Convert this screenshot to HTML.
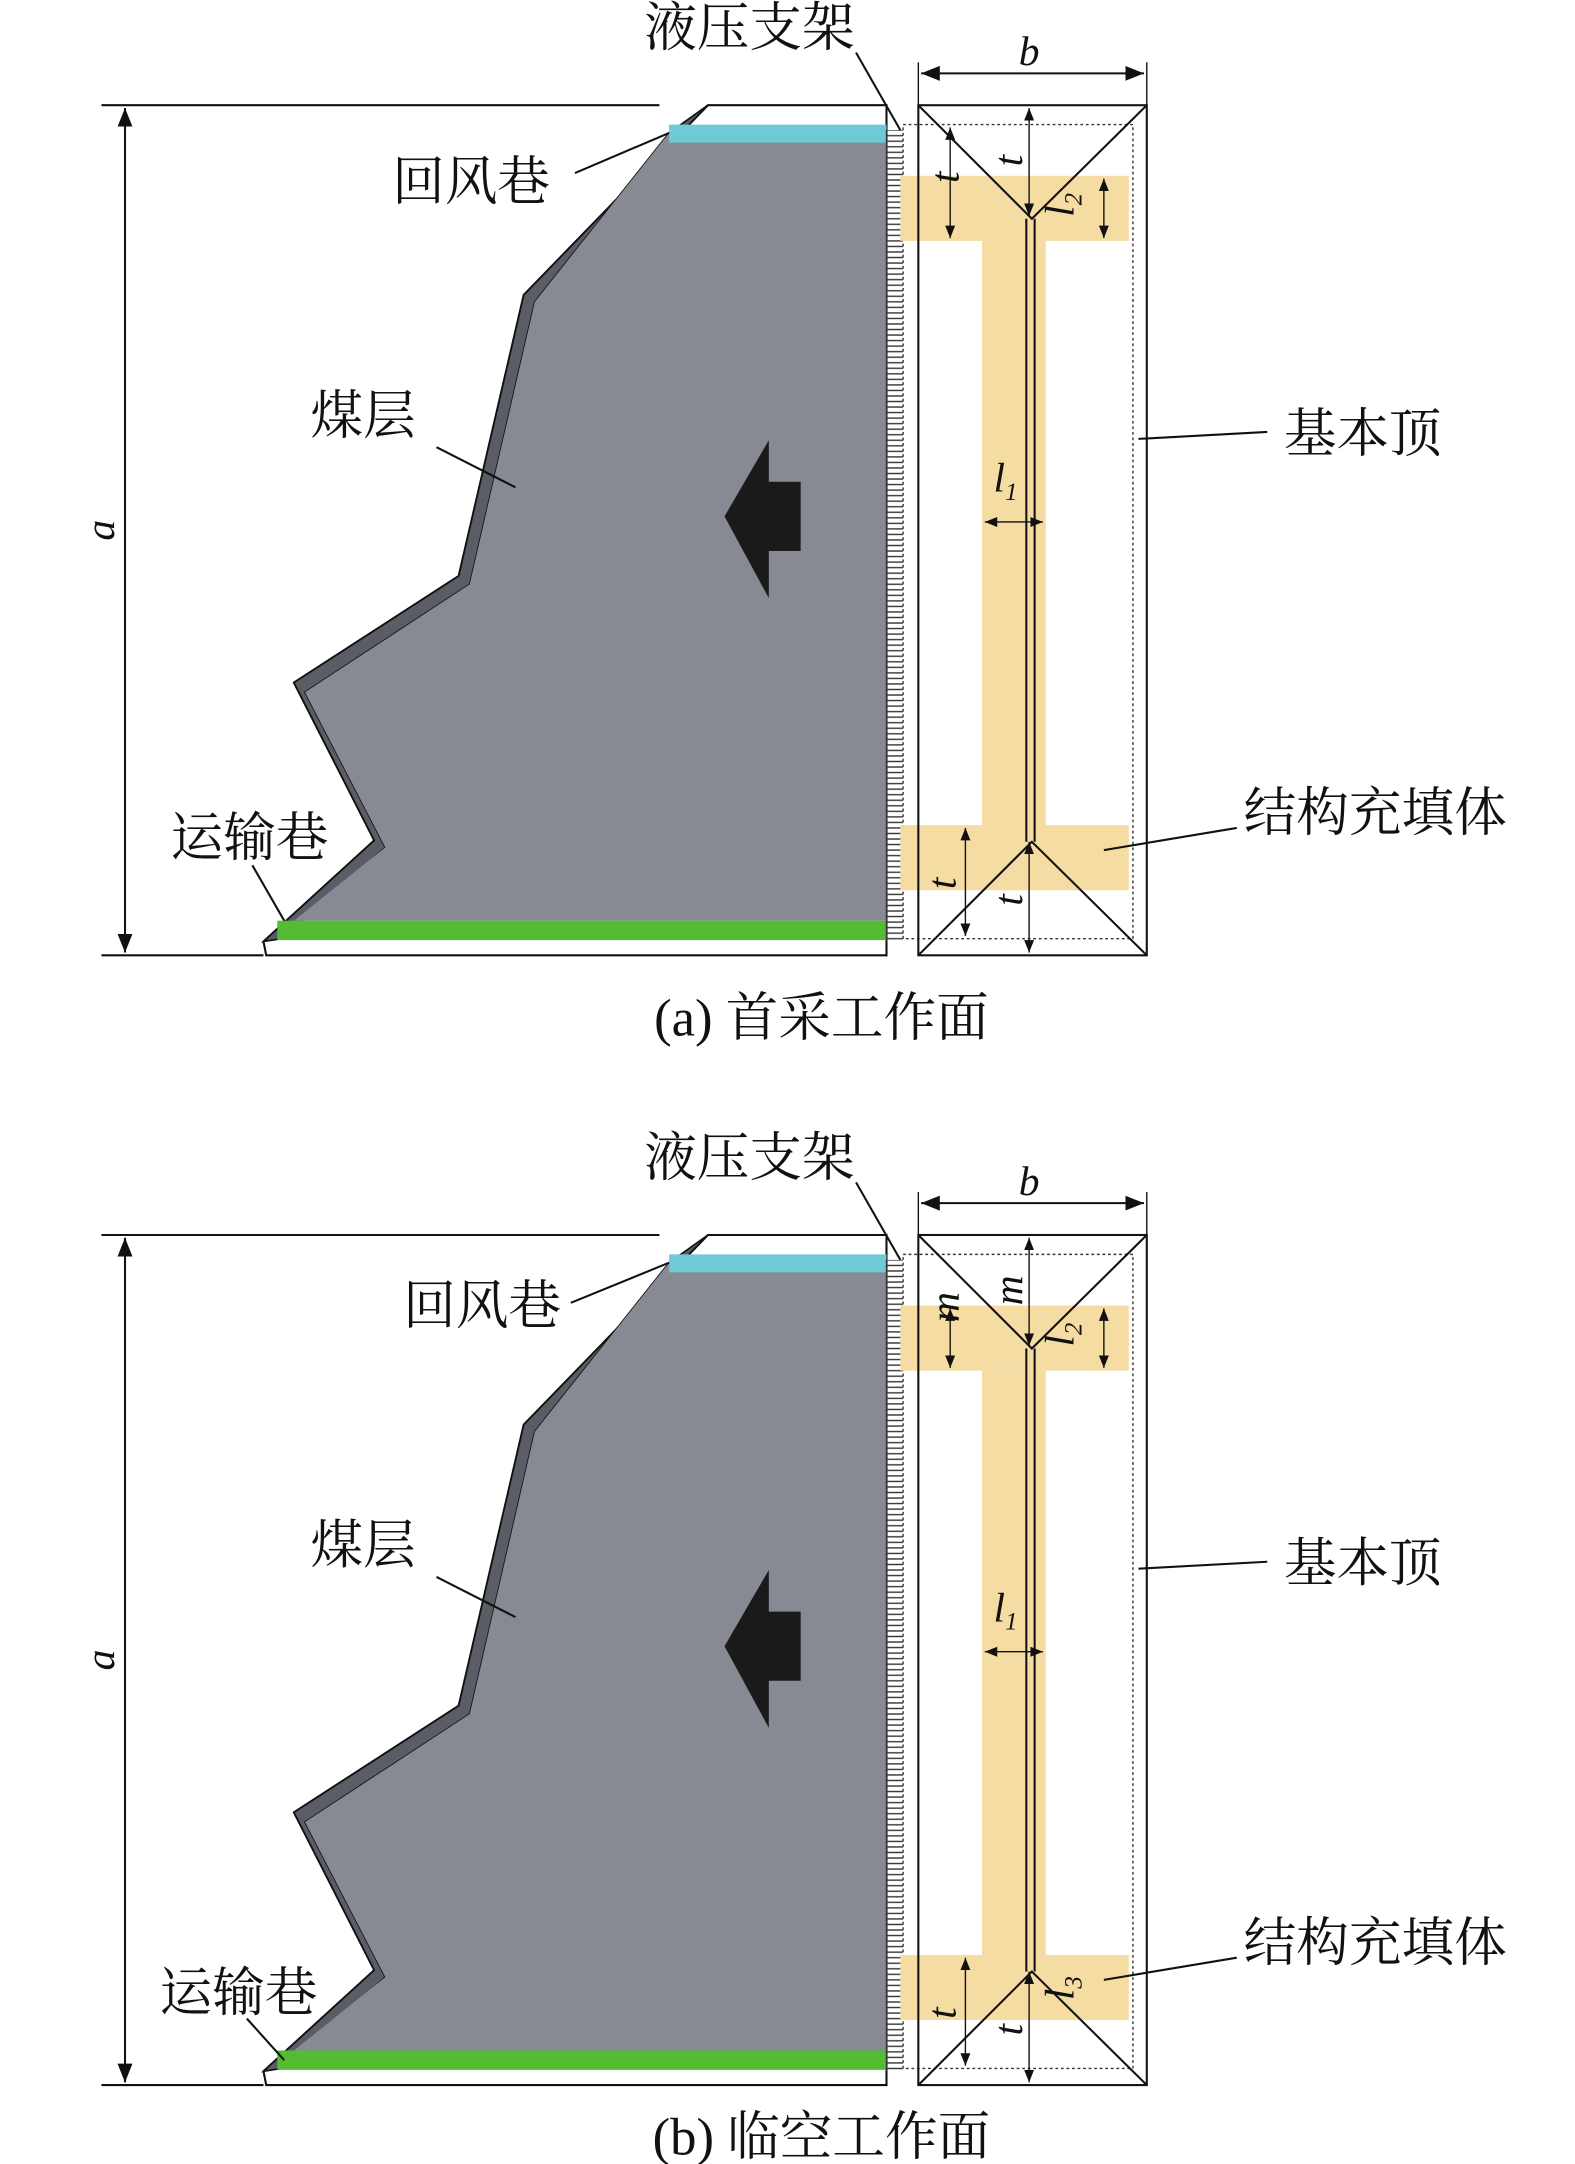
<!DOCTYPE html>
<html><head><meta charset="utf-8"><style>
html,body{margin:0;padding:0;background:#fff}
svg{display:block}
text{font-family:"Liberation Serif","Noto Serif CJK SC",serif;fill:#111}
.cj{font-family:"Liberation Serif","Noto Serif CJK SC","Noto Sans CJK SC",serif;font-size:38px}
.it{font-style:italic;font-size:30px}
</style></head><body>
<svg width="1575" height="2164" viewBox="0 0 1137 1563" xmlns="http://www.w3.org/2000/svg">
<defs>
<marker id="ar" viewBox="0 0 10 10" refX="10" refY="5" markerWidth="9" markerHeight="9" orient="auto-start-reverse"><path d="M0,1 L10,5 L0,9 z" fill="#111"/></marker>
<pattern id="hat" width="12" height="4" patternUnits="userSpaceOnUse"><line x1="0" y1="2" x2="12" y2="2" stroke="#333" stroke-width="1"/></pattern>
<g id="panel">
 <line x1="73" y1="76" x2="476" y2="76" stroke="#111" stroke-width="1.5"/>
 <line x1="73" y1="690" x2="190" y2="690" stroke="#111" stroke-width="1.5"/>
 <line x1="90" y1="78" x2="90" y2="688" stroke="#111" stroke-width="1.5" marker-start="url(#ar)" marker-end="url(#ar)"/>
 <text class="it" x="0" y="0" transform="translate(82,383) rotate(-90)" text-anchor="middle">a</text>
 <!-- coal -->
 <polygon points="511,76 640,76 640,690 192,690 190,680 270,607 212,493 331,416 378,213" fill="#fff" stroke="#111" stroke-width="1.5"/>
 <polygon points="511,76 378,213 331,416 212,493 270,607 190,680 203,678 278,612 220,500 339,422 386,218 483,96" fill="#5a5d65" stroke="#111" stroke-width="1.2"/>
 <polygon points="483,96 640,96 640,665 212,665 278,612 220,500 339,422 386,218" fill="#878a93"/>
 <rect x="483" y="90" width="157" height="13" fill="#6fc9d6"/>
 <rect x="200" y="665" width="440" height="14" fill="#55bb33"/>
 <rect x="640" y="94" width="12" height="586" fill="url(#hat)"/>
 <line x1="640" y1="94" x2="640" y2="680" stroke="#333" stroke-width="1"/>
 <!-- arrow -->
 <polygon points="523,373 555,318 555,348 578,348 578,398 555,398 555,432" fill="#1a1a1a"/>
 <!-- roof -->
 <rect x="652" y="90" width="166" height="588" fill="none" stroke="#333" stroke-dasharray="2,2"/>
 <rect x="650" y="127" width="165" height="47" fill="#f5dca3"/>
 <rect x="709" y="174" width="46" height="424" fill="#f5dca3"/>
 <rect x="650" y="596" width="165" height="47" fill="#f5dca3"/>
 <rect x="663" y="76" width="165" height="614" fill="none" stroke="#111" stroke-width="1.5"/>
 <polyline points="663,76 745,158 828,76" fill="none" stroke="#111" stroke-width="1.5"/>
 <polyline points="663,690 745,608 828,690" fill="none" stroke="#111" stroke-width="1.5"/>
 <line x1="741" y1="158" x2="741" y2="608" stroke="#111" stroke-width="1.5"/>
 <line x1="747" y1="158" x2="747" y2="608" stroke="#111" stroke-width="1.5"/>
 <line x1="663" y1="45" x2="663" y2="76" stroke="#111"/>
 <line x1="828" y1="45" x2="828" y2="76" stroke="#111"/>
 <line x1="665" y1="53" x2="826" y2="53" stroke="#111" stroke-width="1.5" marker-start="url(#ar)" marker-end="url(#ar)"/>
 <text class="it" x="743" y="47" text-anchor="middle">b</text>
 <line x1="797" y1="129" x2="797" y2="172" stroke="#111" marker-start="url(#ar)" marker-end="url(#ar)"/>
 <line x1="711" y1="377" x2="753" y2="377" stroke="#111" marker-start="url(#ar)" marker-end="url(#ar)"/>
 <text class="it" x="726" y="355" text-anchor="middle">l<tspan font-size="18" dy="6">1</tspan></text>
 <line x1="743" y1="608" x2="743" y2="688" stroke="#111" marker-start="url(#ar)" marker-end="url(#ar)"/>
 <line x1="697" y1="598" x2="697" y2="676" stroke="#111" marker-start="url(#ar)" marker-end="url(#ar)"/>
 <line x1="743" y1="78" x2="743" y2="156" stroke="#111" marker-start="url(#ar)" marker-end="url(#ar)"/>
 <!-- leaders -->
 <text class="cj" x="541" y="33" text-anchor="middle">液压支架</text>
 <line x1="618" y1="38" x2="650" y2="94" stroke="#111" stroke-width="1.5"/>
 <line x1="315" y1="323" x2="372" y2="352" stroke="#111" stroke-width="1.5"/>
 <text class="cj" x="262" y="313" text-anchor="middle">煤层</text>
 <line x1="915" y1="312" x2="822" y2="317" stroke="#111" stroke-width="1.5"/>
 <text class="cj" x="984" y="326" text-anchor="middle">基本顶</text>
 <line x1="893" y1="598" x2="797" y2="614" stroke="#111" stroke-width="1.5"/>
 <text class="cj" x="993" y="600" text-anchor="middle">结构充填体</text>
</g>
</defs>

<use href="#panel"/>
<text class="cj" x="340" y="144" text-anchor="middle">回风巷</text>
<line x1="415" y1="125" x2="483" y2="96" stroke="#111" stroke-width="1.5"/>
<text class="cj" x="180" y="618" text-anchor="middle">运输巷</text>
<line x1="182" y1="625" x2="205" y2="665" stroke="#111" stroke-width="1.5"/>
<line x1="686" y1="92" x2="686" y2="172" stroke="#111" marker-start="url(#ar)" marker-end="url(#ar)"/>
<text class="it" transform="translate(692,128) rotate(-90)" text-anchor="middle">t</text>
<text class="it" transform="translate(738,116) rotate(-90)" text-anchor="middle">t</text>
<text class="it" transform="translate(775,148) rotate(-90)" text-anchor="middle">l<tspan font-size="18" dy="6">2</tspan></text>
<text class="it" transform="translate(690,638) rotate(-90)" text-anchor="middle">t</text>
<text class="it" transform="translate(738,650) rotate(-90)" text-anchor="middle">t</text>
<text class="cj" x="593" y="748" text-anchor="middle">(a) 首采工作面</text>

<g transform="translate(0,816)">
<use href="#panel"/>
<text class="cj" x="348" y="140" text-anchor="middle">回风巷</text>
<line x1="412" y1="125" x2="483" y2="96" stroke="#111" stroke-width="1.5"/>
<text class="cj" x="172" y="636" text-anchor="middle">运输巷</text>
<line x1="178" y1="642" x2="205" y2="672" stroke="#111" stroke-width="1.5"/>
<line x1="686" y1="129" x2="686" y2="172" stroke="#111" marker-start="url(#ar)" marker-end="url(#ar)"/>
<text class="it" transform="translate(692,128) rotate(-90)" text-anchor="middle">m</text>
<text class="it" transform="translate(738,116) rotate(-90)" text-anchor="middle">m</text>
<text class="it" transform="translate(775,148) rotate(-90)" text-anchor="middle">l<tspan font-size="18" dy="6">2</tspan></text>
<text class="it" transform="translate(775,620) rotate(-90)" text-anchor="middle">l<tspan font-size="18" dy="6">3</tspan></text>
<text class="it" transform="translate(690,638) rotate(-90)" text-anchor="middle">t</text>
<text class="it" transform="translate(738,650) rotate(-90)" text-anchor="middle">t</text>
<text class="cj" x="593" y="740" text-anchor="middle">(b) 临空工作面</text>
</g>
</svg>
</body></html>
